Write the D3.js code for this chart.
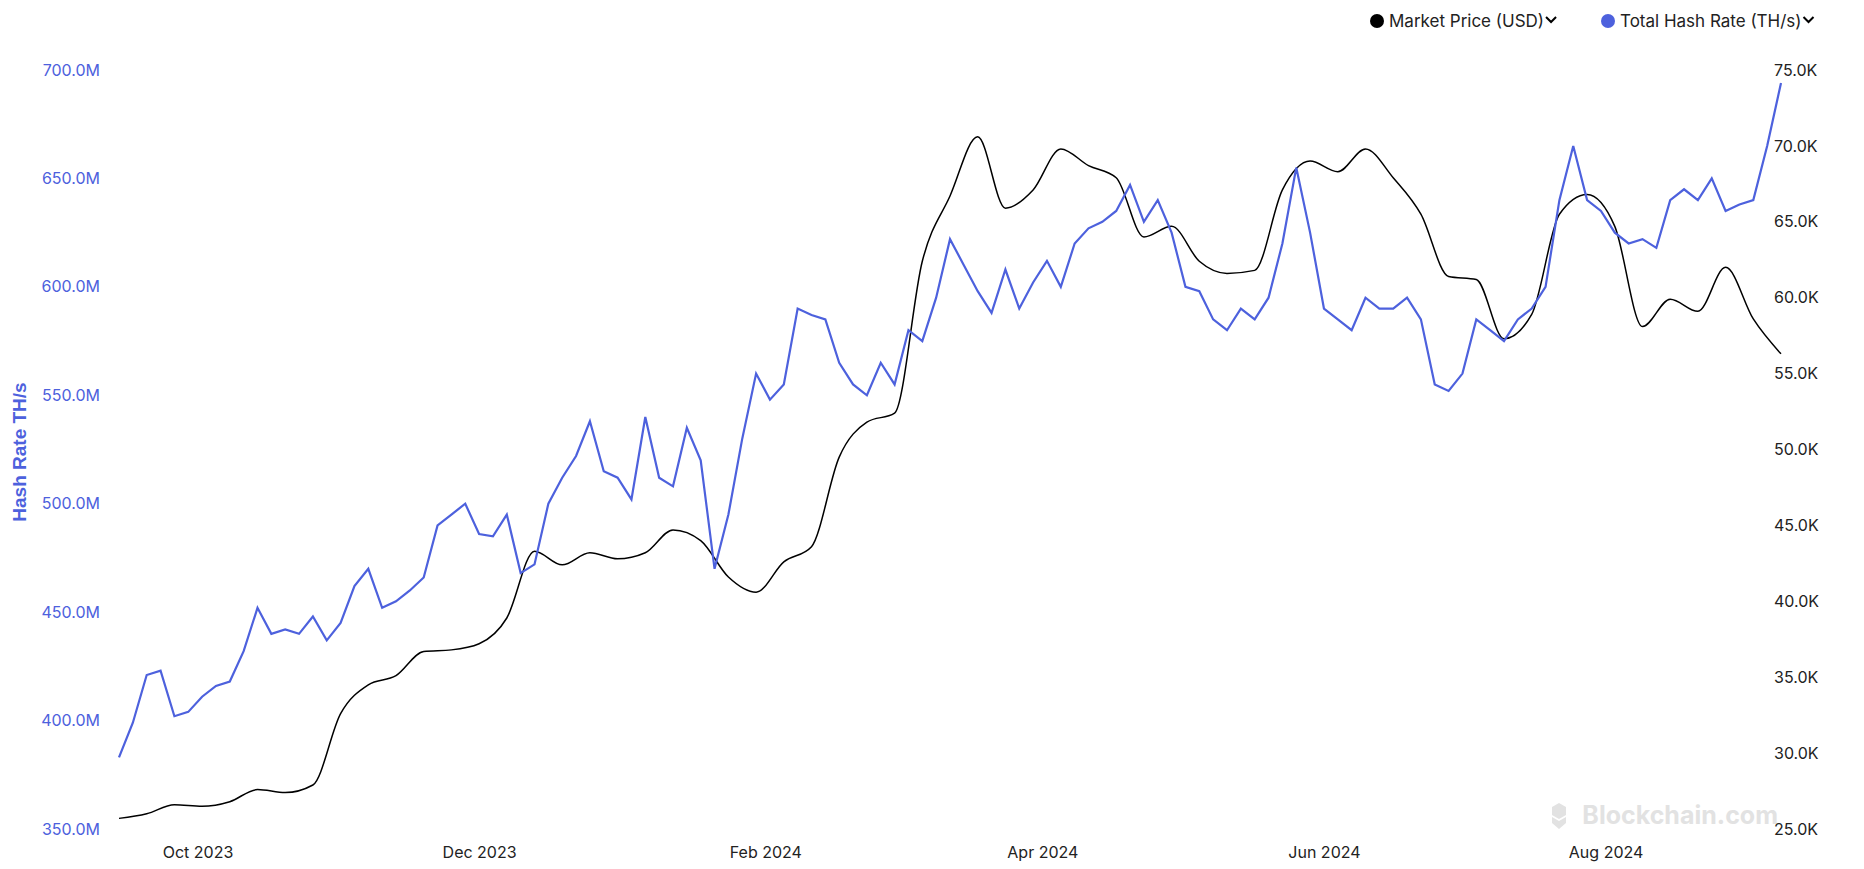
<!DOCTYPE html>
<html>
<head>
<meta charset="utf-8">
<script src="https://cdn.jsdelivr.net/npm/d3@7"></script>
<style>
  body { margin: 0; background: #fff; font-family: Inter, "Open Sans", sans-serif; }
</style>
</head>
<body>
<script>
// hash rate (M TH/s) every 3 days, price (K USD) every 6 days, starting 2023-09-14
var startDate = new Date(2023, 8, 14);
var hashRate = [383, 399, 421, 423, 402, 404, 411, 416, 418, 432, 452, 440, 442, 440, 448, 437,
  445, 462, 470, 452, 455, 460, 466, 490, 495, 500, 486, 485, 495, 468, 472, 500, 512, 522, 538,
  515, 512, 502, 540, 512, 508, 535, 520, 470, 495, 530, 560, 548, 555, 590, 587, 585, 565, 555,
  550, 565, 555, 580, 575, 595, 622, 610, 598, 588, 608, 590, 602, 612, 600, 620, 627, 630, 635,
  647, 630, 640, 625, 600, 598, 585, 580, 590, 585, 595, 620, 655, 625, 590, 585, 580, 595, 590,
  590, 595, 585, 555, 552, 560, 585, 580, 575, 585, 590, 600, 640, 665, 640, 635, 625, 620, 622,
  618, 640, 645, 640, 650, 635, 638, 640, 665, 694];
var price = [25.7, 26.0, 26.6, 26.5, 26.8, 27.6, 27.4, 27.9, 32.6, 34.5, 35.1, 36.7, 36.8, 37.2,
  38.9, 43.3, 42.4, 43.2, 42.8, 43.2, 44.7, 44.0, 41.6, 40.6, 42.6, 43.6, 49.5, 51.8, 52.4, 62.4,
  66.7, 70.6, 65.9, 67.1, 69.8, 68.7, 67.9, 64.0, 64.7, 62.4, 61.6, 61.8, 67.1, 69.0, 68.3, 69.8,
  67.9, 65.5, 61.4, 61.2, 57.3, 58.9, 65.5, 66.8, 64.7, 58.1, 59.9, 59.1, 62.0, 58.6, 56.3];
var hashTicks = [350, 400, 450, 500, 550, 600, 650, 700];
var priceTicks = [25, 30, 35, 40, 45, 50, 55, 60, 65, 70, 75];
var monthTicks = [new Date(2023, 9, 1), new Date(2023, 11, 1), new Date(2024, 1, 1),
  new Date(2024, 3, 1), new Date(2024, 5, 1), new Date(2024, 7, 1)];

var width = 1864, height = 869;
var plotLeft = 119, plotRight = 1781, plotTop = 70, plotBottom = 829;
var blue = "#4d61dd";

function addDays(n) { return d3.timeDay.offset(startDate, n); }

var hashData = hashRate.map(function(v, i) { return { date: addDays(i * 3), value: v }; });
var priceData = price.map(function(v, i) { return { date: addDays(i * 6), value: v }; });

var x = d3.scaleTime()
    .domain([startDate, addDays(360)])
    .range([plotLeft, plotRight]);
var yHash = d3.scaleLinear().domain([350, 700]).range([plotBottom, plotTop]);
var yPrice = d3.scaleLinear().domain([25, 75]).range([plotBottom, plotTop]);

var svg = d3.select("body").append("svg")
    .attr("width", width)
    .attr("height", height);

// watermark
svg.append("text")
    .attr("x", 1778).attr("y", 824)
    .attr("text-anchor", "end")
    .attr("font-size", 25).attr("font-weight", "bold")
    .attr("fill", "#e2e2e2")
    .text("Blockchain.com");
svg.append("path")
    .attr("transform", "translate(1559,815)")
    .attr("d", "M0,-12 L7,-8 L7,0 L0,4 L-7,0 L-7,-8 Z M0,6 L7,2 L7,8 L0,14 L-7,8 L-7,2 Z")
    .attr("fill", "#e2e2e2");

// axes
var gLeft = svg.append("g").attr("transform", "translate(" + (plotLeft - 16) + ",0)")
    .call(d3.axisLeft(yHash).tickValues(hashTicks).tickSize(0)
      .tickFormat(function(d) { return d.toFixed(1) + "M"; }));
gLeft.select(".domain").remove();
gLeft.selectAll("text").attr("fill", blue).attr("font-size", 16).attr("font-family", "Inter");

var gRight = svg.append("g").attr("transform", "translate(" + (plotRight - 10) + ",0)")
    .call(d3.axisRight(yPrice).tickValues(priceTicks).tickSize(0)
      .tickFormat(function(d) { return d.toFixed(1) + "K"; }));
gRight.select(".domain").remove();
gRight.selectAll("text").attr("fill", "#222").attr("font-size", 16).attr("font-family", "Inter");

var gX = svg.append("g").attr("transform", "translate(0," + (plotBottom + 15) + ")")
    .call(d3.axisBottom(x).tickValues(monthTicks).tickSize(0)
      .tickFormat(d3.timeFormat("%b %Y")));
gX.select(".domain").remove();
gX.selectAll("text").attr("fill", "#222").attr("font-size", 16).attr("font-family", "Inter");

svg.append("text")
    .attr("transform", "translate(26,452) rotate(-90)")
    .attr("text-anchor", "middle")
    .attr("font-size", 19).attr("font-weight", "bold")
    .attr("font-family", "Liberation Sans, Arial, sans-serif")
    .attr("fill", blue)
    .text("Hash Rate TH/s");

// lines
svg.append("path")
    .datum(priceData)
    .attr("fill", "none")
    .attr("stroke", "#000")
    .attr("stroke-width", 1.5)
    .attr("d", d3.line().curve(d3.curveMonotoneX)
      .x(function(d) { return x(d.date); })
      .y(function(d) { return yPrice(d.value); }));

svg.append("path")
    .datum(hashData)
    .attr("fill", "none")
    .attr("stroke", blue)
    .attr("stroke-width", 2.2)
    .attr("d", d3.line()
      .x(function(d) { return x(d.date); })
      .y(function(d) { return yHash(d.value); }));

// legend
var legend = [
  { label: "Market Price (USD)", color: "#000", x: 1377 },
  { label: "Total Hash Rate (TH/s)", color: blue, x: 1608 }
];
var lg = svg.selectAll(".legend").data(legend).enter().append("g")
    .attr("transform", function(d) { return "translate(" + d.x + ",21)"; });
lg.append("circle").attr("r", 7).attr("fill", function(d) { return d.color; });
lg.append("text")
    .attr("x", 12).attr("y", 6)
    .attr("font-size", 17).attr("font-family", "Inter").attr("fill", "#222")
    .text(function(d) { return d.label; });
lg.each(function() {
  var g = d3.select(this);
  var w = g.select("text").node().getComputedTextLength();
  g.append("path")
    .attr("d", "M" + (14 + w) + ",-4 l5,5 l5,-5")
    .attr("fill", "none").attr("stroke", "#000").attr("stroke-width", 2);
});
</script>
</body>
</html>
